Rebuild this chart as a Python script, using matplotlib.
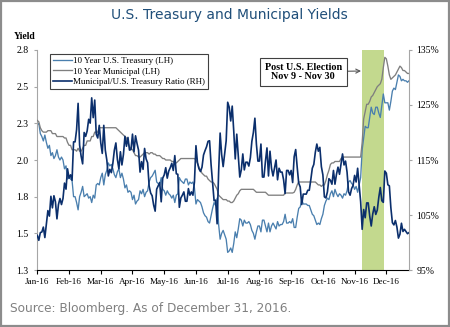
import matplotlib
matplotlib.use('Agg')
import matplotlib.pyplot as plt
import numpy as np
from matplotlib.patches import Rectangle

# ---- data (trading-day series, Jan 4 2016 - Dec 27 2016) ----
treasury = [2.24,2.25,2.18,2.16,2.13,2.17,2.12,2.08,2.10,2.03,2.05,2.01,2.03,2.07,2.02,2.00,2.02,2.00,1.94,
 1.96,1.87,1.88,1.87,1.86,1.75,1.75,1.71,1.66,1.75,1.78,1.82,1.75,1.76,1.77,1.74,1.75,1.71,1.76,1.74,
 1.83,1.84,1.83,1.88,1.91,1.83,1.90,1.93,1.98,1.96,1.97,1.94,1.90,1.88,1.92,1.94,1.88,1.91,1.87,1.81,1.83,1.78,
 1.79,1.78,1.73,1.76,1.70,1.72,1.73,1.79,1.77,1.80,1.75,1.78,1.79,1.85,1.88,1.89,1.91,1.93,1.85,1.84,1.83,
 1.88,1.80,1.79,1.76,1.79,1.77,1.76,1.74,1.76,1.71,1.76,1.77,1.88,1.86,1.85,1.84,1.87,1.87,1.83,1.85,1.84,
 1.85,1.81,1.70,1.73,1.72,1.71,1.68,1.64,1.62,1.61,1.58,1.57,1.62,1.67,1.71,1.69,1.74,1.56,1.46,1.50,1.52,1.49,
 1.46,1.37,1.38,1.40,1.37,1.43,1.51,1.47,1.53,1.60,1.59,1.55,1.59,1.57,1.57,1.58,1.56,1.52,1.50,1.46,
 1.51,1.55,1.55,1.51,1.59,1.59,1.55,1.51,1.57,1.51,1.55,1.57,1.55,1.53,1.58,1.55,1.56,1.56,1.58,1.63,1.57,1.57,1.58,
 1.57,1.60,1.54,1.54,1.61,1.67,1.68,1.73,1.70,1.70,1.70,1.69,1.69,1.66,1.63,1.62,1.59,1.56,1.57,1.56,1.60,
 1.63,1.69,1.72,1.74,1.73,1.77,1.79,1.75,1.80,1.77,1.75,1.77,1.76,1.74,1.77,1.76,1.79,1.85,1.86,1.84,
 1.83,1.80,1.82,1.78,1.83,1.88,2.07,2.15,2.23,2.22,2.22,2.29,2.36,2.32,2.31,2.36,2.36,2.32,2.29,2.37,
 2.45,2.39,2.39,2.39,2.34,2.40,2.47,2.49,2.48,2.53,2.58,2.57,2.54,2.55,2.54,2.54,2.53,2.54]

municipal = [2.27,2.26,2.22,2.20,2.19,2.19,2.19,2.20,2.20,2.20,
 2.18,2.18,2.18,2.16,2.16,2.16,2.16,2.16,2.15,2.15,
 2.12,2.10,2.10,2.07,2.07,2.07,2.06,2.08,2.06,2.06,
 2.08,2.10,2.10,2.13,2.13,2.13,2.16,2.16,2.19,2.19,
 2.19,2.22,2.22,2.22,2.22,2.22,2.22,2.22,2.22,2.22,
 2.22,2.22,2.22,2.21,2.20,2.19,2.18,2.17,2.16,2.15,
 2.12,2.09,2.08,2.07,2.05,2.03,2.03,2.02,2.02,2.03,
 2.04,2.05,2.05,2.05,2.04,2.05,2.05,2.04,2.04,2.03,
 2.03,2.03,2.02,2.01,2.01,2.00,2.00,2.00,2.00,1.99,
 1.99,1.98,1.98,1.99,2.00,2.01,2.01,2.01,2.01,2.01,
 2.01,2.01,2.01,2.01,2.01,2.00,1.98,1.95,1.93,1.91,
 1.90,1.89,1.89,1.87,1.86,1.85,1.85,1.84,1.82,1.80,
 1.76,1.75,1.74,1.73,1.73,1.73,1.72,1.72,1.71,1.71,
 1.72,1.74,1.76,1.77,1.79,1.80,1.80,1.80,1.80,1.80,
 1.80,1.80,1.80,1.80,1.79,1.78,1.78,1.78,1.78,1.78,
 1.78,1.78,1.77,1.76,1.76,1.76,1.76,1.76,1.76,1.76,
 1.76,1.76,1.76,1.76,1.775,1.775,1.775,1.775,1.775,1.775,
 1.78,1.80,1.83,1.85,1.85,1.85,1.85,1.85,1.85,1.85,
 1.85,1.85,1.85,1.85,1.85,1.84,1.83,1.83,1.82,1.83,
 1.83,1.86,1.90,1.93,1.97,1.98,1.98,1.99,1.99,1.99,
 1.99,2.01,2.02,2.02,2.02,2.02,2.02,2.02,2.02,2.02,
 2.02,2.02,2.02,2.02,2.02,2.12,2.28,2.33,2.38,2.38,
 2.40,2.43,2.44,2.46,2.48,2.50,2.51,2.52,2.55,2.63,
 2.70,2.69,2.64,2.58,2.55,2.56,2.57,2.58,2.60,2.62,
 2.64,2.63,2.61,2.61,2.60,2.59,2.59]

ratio = [101.3,100.4,101.8,101.9,102.8,100.9,103.3,105.8,104.8,108.4,
 106.3,108.5,107.4,104.3,106.9,108.0,106.9,108.0,110.8,109.7,
 113.4,111.7,112.3,111.3,118.3,118.3,120.5,125.3,117.7,115.7,
 114.3,120.0,119.3,120.3,122.4,121.7,126.3,122.7,125.9,119.7,
 119.0,121.3,118.1,116.2,121.3,116.8,115.0,112.1,113.3,112.7,
 114.4,116.8,118.1,115.1,113.4,116.5,114.1,116.0,119.3,117.5,
 119.1,116.8,116.9,119.7,116.5,119.4,118.0,116.8,112.8,114.7,
 113.3,117.1,115.2,114.5,110.3,109.0,108.5,106.8,105.7,109.7,
 110.3,110.9,107.4,111.7,112.3,113.6,111.7,113.0,113.6,114.4,
 113.1,115.8,112.5,112.4,106.4,108.1,108.6,109.2,107.5,107.5,
 109.8,108.6,109.2,108.6,111.0,117.6,114.5,113.4,112.9,113.7,
 115.9,116.7,117.4,118.4,118.5,114.2,110.8,107.6,107.7,103.4,
 112.8,119.9,116.0,113.8,116.1,118.5,125.5,124.6,122.1,124.8,
 120.3,115.2,119.7,115.7,111.9,113.2,116.1,113.2,114.6,114.6,
 113.9,115.4,118.4,120.0,122.6,117.9,114.8,114.8,117.9,111.9,
 111.9,114.8,117.2,112.1,116.6,113.5,112.1,113.5,115.0,111.4,
 113.5,112.8,112.8,111.4,108.9,113.1,113.1,112.3,113.1,110.9,
 115.6,116.9,113.7,110.8,110.1,106.9,108.8,108.8,108.8,109.5,
 109.5,111.4,113.5,114.2,116.4,117.9,116.6,117.3,113.8,112.3,
 108.3,108.1,109.2,111.6,111.3,110.6,113.1,110.6,112.4,113.7,
 112.4,114.2,116.1,114.1,114.8,112.8,109.2,108.6,109.8,110.4,
 112.2,111.0,113.5,110.4,107.4,102.4,106.0,104.5,107.2,107.2,
 104.8,103.0,105.2,106.5,105.1,105.9,108.2,110.0,107.6,107.3,
 113.0,112.6,110.5,110.3,106.3,103.6,103.2,104.0,102.8,100.8,
 101.5,103.5,102.0,102.4,102.0,101.6,101.8]

month_labels = ['Jan-16','Feb-16','Mar-16','Apr-16','May-16','Jun-16',
                'Jul-16','Aug-16','Sep-16','Oct-16','Nov-16','Dec-16']
days_per_tick = 21
left_ticks = [1.25, 1.50, 1.75, 2.00, 2.25, 2.50, 2.75]
left_tick_labels = ['1.3', '1.5', '1.8', '2.0', '2.3', '2.5', '2.8']
right_ticks = [95, 105, 115, 125, 135]
right_tick_labels = ['95%', '105%', '115%', '125%', '135%']
band_start, band_end = 215, 228   # Nov 9 and Nov 30 (trading-day index)
series_labels = ['10 Year U.S. Treasury (LH)', '10 Year Municipal (LH)',
                 'Municipal/U.S. Treasury Ratio (RH)']

SERIF = 'Liberation Serif'
C_TSY = '#4a7fae'
C_MUNI = '#7f7f7f'
C_RATIO = '#0b2f6c'
C_AXIS = '#a6a6a6'

fig = plt.figure(figsize=(4.5, 3.27), dpi=100)
ax = fig.add_axes([0.0829, 0.1743, 0.826, 0.6728])
x = np.arange(len(treasury))

ax.axvspan(band_start - 0.3, band_end + 1.5, color='#c3d98e', lw=0, zorder=0)
l1, = ax.plot(x, treasury, color=C_TSY, lw=0.95, zorder=2)
l2, = ax.plot(x, municipal, color=C_MUNI, lw=0.95, zorder=3)
ax.set_xlim(0, len(treasury) - 1)
ax.set_ylim(1.25, 2.75)

ax2 = ax.twinx()
l3, = ax2.plot(x, ratio, color=C_RATIO, lw=1.2)
ax2.set_ylim(95, 135)

# spines
for a in (ax, ax2):
    a.spines['top'].set_visible(False)
ax.spines['right'].set_visible(False)
ax2.spines['left'].set_visible(False)
ax2.spines['bottom'].set_visible(False)
ax.spines['left'].set_color(C_AXIS)
ax.spines['left'].set_linewidth(0.8)
ax2.spines['right'].set_color(C_AXIS)
ax2.spines['right'].set_linewidth(0.8)
ax.spines['bottom'].set_color('black')
ax.spines['bottom'].set_linewidth(0.8)

ax.set_xticks([days_per_tick * i for i in range(len(month_labels))])
ax.set_xticklabels(month_labels, family=SERIF, fontsize=6.6)
ax.tick_params(axis='x', direction='out', length=3, width=0.8, color='black', pad=3)

ax.set_yticks(left_ticks)
ax.set_yticklabels(left_tick_labels, family=SERIF, fontsize=7)
ax.tick_params(axis='y', direction='out', length=2.5, width=0.8, color=C_AXIS, pad=4)

ax2.set_yticks(right_ticks)
ax2.set_yticklabels(right_tick_labels, family=SERIF, fontsize=7)
ax2.tick_params(axis='y', direction='out', length=2.5, width=0.8, color=C_AXIS, pad=3)

leg = ax.legend([l1, l2, l3], series_labels, loc='upper left',
                bbox_to_anchor=(0.034, 0.982), borderaxespad=0,
                prop={'family': SERIF, 'size': 6.5}, fancybox=False,
                framealpha=1, edgecolor='#404040', handlelength=2.1,
                handletextpad=0.1, labelspacing=0.2, borderpad=0.35)
leg.get_frame().set_linewidth(0.8)
leg.set_zorder(10)

ax2.annotate('Post U.S. Election\nNov 9 - Nov 30', xy=(0.871, 0.9045),
             xycoords='axes fraction', xytext=(0.7157, 0.90),
             textcoords='axes fraction', ha='center', va='center',
             family=SERIF, fontsize=7.3, fontweight='bold', linespacing=1.1,
             bbox=dict(boxstyle='square,pad=0.45', fc='white', ec='#404040', lw=0.8),
             arrowprops=dict(arrowstyle='->', color='#595959', lw=0.8,
                             shrinkA=0, shrinkB=0))

fig.text(229 / 450, 1 - 15 / 327, 'U.S. Treasury and Municipal Yields',
         ha='center', va='center', fontsize=10, color='#1f4e79',
         family='DejaVu Sans')
fig.text(25 / 450, 1 - 36.5 / 327, 'Yield', ha='center', va='center',
         family=SERIF, fontsize=7, fontweight='bold')
fig.text(10 / 450, 1 - 308.5 / 327, 'Source: Bloomberg. As of December 31, 2016.',
         ha='left', va='center', fontsize=8.7, color='#808080', family='DejaVu Sans')

fig.patches.append(Rectangle((0.002, 0.003), 0.995, 0.994, transform=fig.transFigure,
                             fill=False, ec='#8c8c8c', lw=1.6))

fig.savefig('out.png', dpi=100)
